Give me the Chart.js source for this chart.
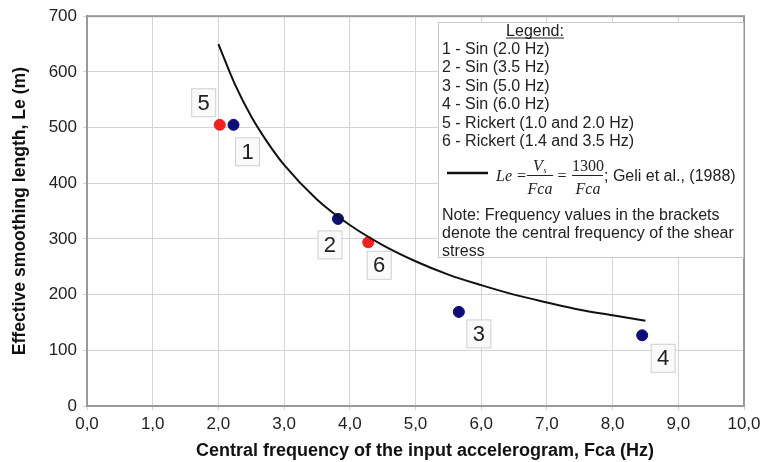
<!DOCTYPE html>
<html>
<head>
<meta charset="utf-8">
<script src="https://cdn.jsdelivr.net/npm/chart.js@4"></script>
<style>
  html, body { margin: 0; padding: 0; background: #fff; }
  #wrap { width: 773px; height: 462px; }
</style>
</head>
<body>
<div id="wrap"><canvas id="myChart" width="773" height="462"></canvas></div>
<script>
// values
const sinFreq = [2.23, 3.82, 5.66, 8.45];
const sinLe = [505, 336, 169, 127];
const sinLabels = ['1', '2', '3', '4'];

const rickFreq = [2.02, 4.28];
const rickLe = [505, 294];
const rickLabels = ['5', '6'];

// Geli et al. curve
const curveFreq = [2.0, 2.25, 2.5, 2.75, 3.0, 3.5, 4.0, 4.5, 5.0, 5.5, 6.0, 6.5, 7.0, 7.5, 8.0, 8.5];
const curveLe = [650, 578, 520, 473, 433, 371, 325, 289, 260, 236, 217, 200, 186, 173, 163, 153];

const xTickLabels = ['0,0', '1,0', '2,0', '3,0', '4,0', '5,0', '6,0', '7,0', '8,0', '9,0', '10,0'];
const yTickLabels = ['0', '100', '200', '300', '400', '500', '600', '700'];

const xTitle = 'Central frequency of the input accelerogram, Fca (Hz)';
const yTitle = 'Effective smoothing length, Le (m)';

const legendLines = [
  '1 - Sin (2.0 Hz)',
  '2 - Sin (3.5 Hz)',
  '3 - Sin (5.0 Hz)',
  '4 - Sin (6.0 Hz)',
  '5 - Rickert (1.0 and 2.0 Hz)',
  '6 - Rickert (1.4 and 3.5 Hz)'
];
const noteLines = [
  'Note: Frequency values in the brackets',
  'denote the central frequency of the shear',
  'stress'
];

const SANS = 'Arial, "Liberation Sans", sans-serif';
const SERIF = '"Liberation Serif", "Times New Roman", serif';

const toXY = (xs, ys) => xs.map((x, i) => ({ x: x, y: ys[i] }));

// where each number box sits relative to its point
const labelOffsets = {
  '1': [14, 27], '2': [-8, 26], '3': [20, 22],
  '4': [21, 23], '5': [-16, -22], '6': [11, 23]
};

const framePlugin = {
  id: 'frame',
  beforeDatasetsDraw(chart) {
    const a = chart.chartArea;
    const ctx = chart.ctx;
    ctx.save();
    ctx.strokeStyle = '#9a9a9a';
    ctx.lineWidth = 2;
    ctx.strokeRect(a.left, a.top, a.right - a.left, a.bottom - a.top);
    // x axis title, sits a little right of the plot centre in the original
    ctx.fillStyle = '#111';
    ctx.font = 'bold 18px ' + SANS;
    ctx.textAlign = 'center';
    ctx.textBaseline = 'middle';
    ctx.fillText(xTitle, 425, 451);
    ctx.restore();
  }
};

const pointLabelPlugin = {
  id: 'pointLabels',
  afterDatasetsDraw(chart) {
    const ctx = chart.ctx;
    ctx.save();
    ctx.font = '22px ' + SANS;
    ctx.textAlign = 'center';
    ctx.textBaseline = 'middle';
    chart.data.datasets.forEach((ds, di) => {
      if (!ds.numLabels) return;
      chart.getDatasetMeta(di).data.forEach((pt, i) => {
        const txt = ds.numLabels[i];
        const off = labelOffsets[txt];
        const cx = pt.x + off[0], cy = pt.y + off[1];
        ctx.fillStyle = '#fafafa';
        ctx.fillRect(cx - 12, cy - 14, 24, 28);
        ctx.strokeStyle = '#cfcfcf';
        ctx.lineWidth = 1;
        ctx.strokeRect(cx - 12, cy - 14, 24, 28);
        ctx.fillStyle = '#222';
        ctx.fillText(txt, cx, cy + 1);
      });
    });
    ctx.restore();
  }
};

const legendPlugin = {
  id: 'boxLegend',
  afterDraw(chart) {
    const ctx = chart.ctx;
    const bx = 438, by = 22, bw = 305, bh = 235;
    ctx.save();
    ctx.fillStyle = '#fff';
    ctx.fillRect(bx, by, bw, bh);
    ctx.strokeStyle = '#c8c8c8';
    ctx.lineWidth = 1;
    ctx.strokeRect(bx + 0.5, by + 0.5, bw, bh);

    ctx.fillStyle = '#222';
    ctx.font = '16px ' + SANS;
    ctx.textBaseline = 'alphabetic';
    ctx.textAlign = 'center';
    ctx.fillText('Legend:', 535, 36);
    const lw = ctx.measureText('Legend:').width;
    ctx.fillRect(535 - lw / 2, 37.5, lw, 1);

    ctx.textAlign = 'left';
    legendLines.forEach((t, i) => ctx.fillText(t, 442, 54 + i * 18.4));

    // line sample
    ctx.strokeStyle = '#111';
    ctx.lineWidth = 2.5;
    ctx.beginPath();
    ctx.moveTo(447, 173);
    ctx.lineTo(488, 173);
    ctx.stroke();

    // formula
    ctx.font = 'italic 16px ' + SERIF;
    ctx.textAlign = 'left';
    ctx.fillText('Le =', 496, 181);
    ctx.textAlign = 'center';
    ctx.fillText('V', 538, 171);
    ctx.font = 'italic 8px ' + SERIF;
    ctx.fillText('s', 545, 173);
    ctx.font = 'italic 16px ' + SERIF;
    ctx.fillText('Fca', 540, 194);
    ctx.fillText('=', 562, 181);
    ctx.font = '16px ' + SERIF;
    ctx.fillText('1300', 588, 171);
    ctx.font = 'italic 16px ' + SERIF;
    ctx.fillText('Fca', 588, 194);
    ctx.fillRect(527, 175, 26, 1);
    ctx.fillRect(572, 175, 31, 1);
    ctx.font = '16px ' + SANS;
    ctx.textAlign = 'left';
    ctx.fillText('; Geli et al., (1988)', 604, 181);

    noteLines.forEach((t, i) => ctx.fillText(t, 442, 220 + i * 17.8));
    ctx.restore();
  }
};

new Chart(document.getElementById('myChart'), {
  type: 'scatter',
  data: {
    datasets: [
      {
        label: 'Geli et al. (1988)',
        data: toXY(curveFreq, curveLe),
        showLine: true,
        borderColor: '#111',
        borderWidth: 2,
        pointRadius: 0,
        tension: 0.4,
        cubicInterpolationMode: 'monotone'
      },
      {
        label: 'Sin',
        data: toXY(sinFreq, sinLe),
        numLabels: sinLabels,
        backgroundColor: '#0c0c7a',
        borderColor: '#0c0c7a',
        pointRadius: 5.5
      },
      {
        label: 'Rickert',
        data: toXY(rickFreq, rickLe),
        numLabels: rickLabels,
        backgroundColor: '#f42020',
        borderColor: '#f42020',
        pointRadius: 5.5
      }
    ]
  },
  options: {
    responsive: false,
    animation: false,
    layout: { padding: { top: 16, right: 29, left: 0, bottom: 0 } },
    plugins: {
      legend: { display: false },
      tooltip: { enabled: false }
    },
    scales: {
      x: {
        type: 'linear',
        min: 0,
        max: 10,
        afterFit(scale) { scale.height = 56; },
        ticks: {
          stepSize: 1,
          color: '#222',
          font: { size: 17, family: SANS },
          padding: 4,
          maxRotation: 0,
          callback: (v, i) => xTickLabels[i]
        },
        grid: { color: '#d4d4d4', lineWidth: 1, tickLength: 4 },
        border: { color: '#9a9a9a', width: 2 },
        title: { display: false }
      },
      y: {
        min: 0,
        max: 700,
        afterFit(scale) { scale.width = 87; },
        ticks: {
          stepSize: 100,
          color: '#222',
          font: { size: 17, family: SANS },
          padding: 6,
          callback: (v, i) => yTickLabels[i]
        },
        grid: { color: '#d4d4d4', lineWidth: 1, tickLength: 4 },
        border: { color: '#9a9a9a', width: 2 },
        title: {
          display: true,
          text: yTitle,
          color: '#111',
          font: { size: 17.6, weight: 'bold', family: SANS },
          padding: { top: 10, bottom: 0 }
        }
      }
    }
  },
  plugins: [framePlugin, pointLabelPlugin, legendPlugin]
});
</script>
</body>
</html>
